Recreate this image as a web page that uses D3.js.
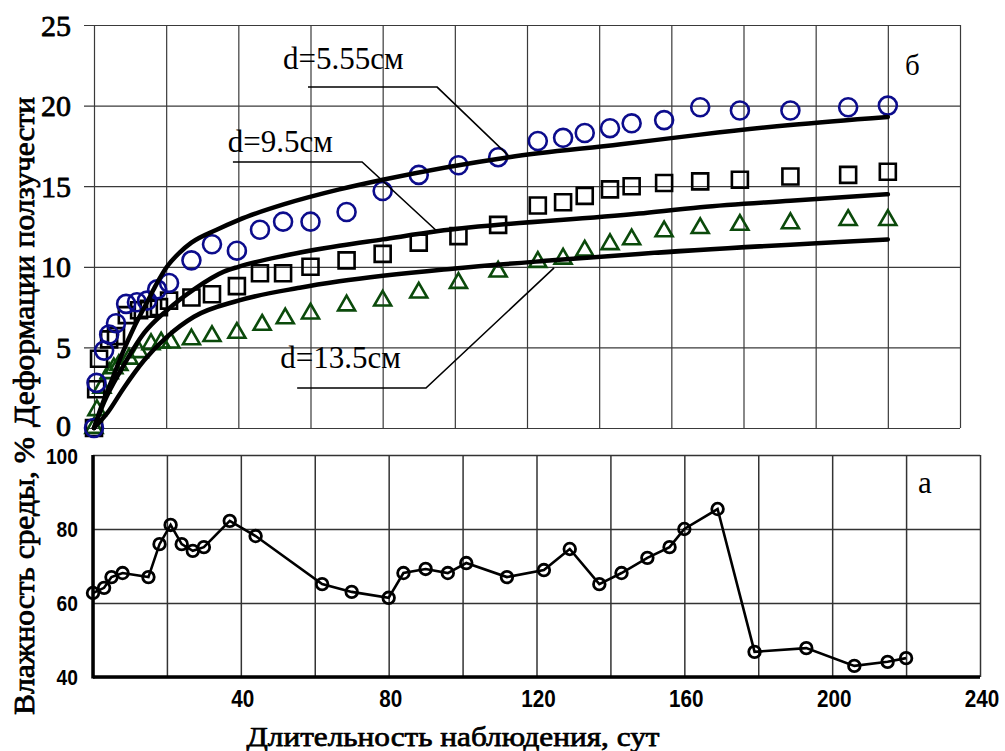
<!DOCTYPE html>
<html>
<head>
<meta charset="utf-8">
<script src="https://cdnjs.cloudflare.com/ajax/libs/d3/7.8.5/d3.min.js"></script>
<style>
body { margin: 0; background: #fff; }
svg { display: block; }
</style>
</head>
<body>
<div id="chart"></div>
<script>
//Creep data (top panel, б)
var circleDays = [0, 0.7, 2.8, 4.2, 6.1, 8.9, 11.9, 14.7, 17.5, 20.8, 27, 32.7, 39.6, 46, 52.4, 60, 70, 80, 90, 101, 112, 123, 130, 136, 143, 149, 158, 168, 179, 193, 209, 220];
var circleVals = [0, 2.8, 4.8, 5.8, 6.5, 7.7, 7.8, 7.9, 8.6, 9.0, 10.4, 11.4, 11.0, 12.3, 12.8, 12.8, 13.4, 14.7, 15.7, 16.3, 16.8, 17.8, 18.0, 18.3, 18.6, 18.9, 19.1, 19.9, 19.7, 19.7, 19.9, 20.0];

var squareDays = [0, 0.6, 1.4, 4.2, 6.1, 9.1, 12.5, 15.2, 18, 20.8, 27, 32.7, 39.6, 46, 52.4, 60, 70, 80, 90, 101, 112, 123, 130, 136, 143, 149, 158, 168, 179, 193, 209, 220];
var squareVals = [0, 2.4, 4.3, 5.5, 5.7, 7.0, 7.3, 7.4, 7.5, 7.9, 8.1, 8.3, 8.8, 9.6, 9.6, 10.0, 10.4, 10.8, 11.5, 11.9, 12.6, 13.8, 14.0, 14.4, 14.8, 15.0, 15.2, 15.3, 15.4, 15.6, 15.7, 15.9];

var triDays = [0, 0.8, 2.2, 4.2, 5.5, 6.9, 9.7, 12.5, 15.8, 18.6, 21.3, 27, 32.7, 39.6, 46.6, 53, 60, 70, 80, 90, 101, 112, 123, 130, 136, 143, 149, 158, 168, 179, 193, 209, 220];
var triVals = [0, 1.1, 2.5, 3.4, 3.7, 3.9, 4.3, 4.7, 5.2, 5.3, 5.3, 5.5, 5.7, 5.9, 6.4, 6.8, 7.1, 7.6, 7.9, 8.4, 9.0, 9.7, 10.3, 10.5, 11.0, 11.4, 11.7, 12.2, 12.4, 12.6, 12.7, 12.9, 12.9];

//Fitted curves
var fitDays55 = [0, 2, 5, 8, 11, 14.7, 17, 20.2, 23.8, 27, 34, 40, 53, 68, 80, 115, 146, 168, 193, 220];
var fitVals55 = [0, 1.3, 3.0, 4.7, 6.2, 7.8, 8.8, 10.0, 10.9, 11.5, 12.3, 12.9, 13.9, 14.8, 15.4, 16.8, 17.6, 18.2, 18.8, 19.3];
var fitDays95 = [0, 2.8, 7.5, 13.9, 20.2, 27.7, 36, 40, 53, 68, 80, 95, 151, 168, 193, 220];
var fitVals95 = [0, 1.6, 3.6, 5.9, 7.3, 8.6, 9.7, 10.0, 10.7, 11.3, 11.7, 12.2, 13.3, 13.7, 14.1, 14.5];
var fitDays135 = [0, 3.6, 8.3, 13.9, 20.2, 27.7, 40, 57, 68, 100, 127, 151, 220];
var fitVals135 = [0, 0.9, 2.5, 4.2, 5.65, 6.9, 7.9, 8.7, 9.1, 9.9, 10.4, 10.8, 11.7];

//Humidity (bottom panel, а)
var humDays = [0, 3, 5, 8, 15, 18, 21, 24, 27, 30, 37, 44, 62, 70, 80, 84, 90, 96, 101, 112, 122, 129, 137, 143, 150, 156, 160, 169, 179, 193, 206, 215, 220];
var humVals = [62.7, 64.1, 67.0, 68.1, 67.0, 75.9, 81.1, 75.9, 74.1, 75.1, 82.2, 78.1, 65.1, 63.0, 61.4, 68.1, 69.2, 68.1, 70.8, 67.0, 68.9, 74.6, 65.1, 68.1, 72.2, 75.1, 80.0, 85.4, 46.8, 47.8, 43.0, 44.1, 45.1];

//Ticks
var dayGrid = [0, 20, 40, 60, 80, 100, 120, 140, 160, 180, 200, 220, 240];
var dayLabels = [40, 80, 120, 160, 200, 240];
var creepTicks = [0, 5, 10, 15, 20, 25];
var humTicks = [40, 60, 80, 100];

//Annotations (label, text position, leader line) in data units
var annoText = ["d=5.55см", "d=9.5см", "d=13.5см"];
var annoPos = [[52.4, 22.27], [37.1, 17.12], [51.6, 3.72]];
var annoLeaders = [
	[[59.3, 21.15], [95.1, 21.15], [115.3, 16.8]],
	[[38.5, 16.5], [74.3, 16.5], [95.3, 12.16]],
	[[56.3, 2.48], [92, 2.48], [127.5, 9.93]]
];

var serif = '"Liberation Serif", "Times New Roman", Times, serif';
var narrow = '"Liberation Sans Narrow", "Arial Narrow", "Liberation Sans", Arial, sans-serif';

//bold Times look: regular serif face thickened a little with a stroke
var boldSerif = function(sel, w) {
	sel.style('font-family', serif)
		.style('font-weight', 'normal')
		.attr('fill', '#000')
		.attr('stroke', '#000')
		.attr('stroke-width', w)
		.attr('stroke-linejoin', 'round');
};

var svg = d3.select('#chart')
	.append('svg')
	.attr('width', 1005)
	.attr('height', 751);

//---------------- top panel ----------------
var topW = 876, topH = 403;
var xTop = d3.scaleLinear().domain([0, 240]).range([10, topW]);
var yTop = d3.scaleLinear().domain([0, 25]).range([topH, 0]);

var gTop = svg.append('g')
	.attr('transform', 'translate(84,25)');

//Horizontal grid
gTop.append('g')
	.call(d3.axisLeft(yTop).tickValues(creepTicks).tickSize(-topW).tickFormat(''))
	.call(function(g) { g.select('.domain').remove(); })
	.selectAll('line')
	.attr('stroke', '#3a3a3a')
	.attr('stroke-width', 1.2);

//Vertical grid
gTop.append('g')
	.attr('transform', 'translate(0,' + topH + ')')
	.call(d3.axisBottom(xTop).tickValues(dayGrid).tickSize(-topH).tickFormat(''))
	.call(function(g) { g.select('.domain').remove(); })
	.selectAll('line')
	.attr('stroke', '#3a3a3a')
	.attr('stroke-width', 1.2);

//Y tick labels
gTop.selectAll('.ylab')
	.data(creepTicks)
	.enter()
	.append('text')
	.attr('x', -13)
	.attr('y', function(d) { return yTop(d); })
	.attr('dy', function(d) { return d === 0 ? '0.28em' : '0.35em'; })
	.attr('text-anchor', 'end')
	.style('font-size', '30px')
	.call(boldSerif, 0.8)
	.text(function(d) { return d; });

//Markers
var circleSym = d3.symbol().type(d3.symbolCircle).size(254);
var squareSym = d3.symbol().type(d3.symbolSquare).size(256);
var triSym = d3.symbol().type(d3.symbolTriangle).size(125);

gTop.selectAll('.tri')
	.data(d3.zip(triDays, triVals))
	.enter()
	.append('path')
	.attr('d', triSym)
	.attr('transform', function(d) { return 'translate(' + xTop(d[0]) + ',' + yTop(d[1]) + ')'; })
	.attr('fill', 'none')
	.attr('stroke', '#0b4a0b')
	.attr('stroke-width', 2.6);

gTop.selectAll('.sq')
	.data(d3.zip(squareDays, squareVals))
	.enter()
	.append('path')
	.attr('d', squareSym)
	.attr('transform', function(d) { return 'translate(' + xTop(d[0]) + ',' + yTop(d[1]) + ')'; })
	.attr('fill', 'none')
	.attr('stroke', '#000')
	.attr('stroke-width', 2.6);

gTop.selectAll('.circ')
	.data(d3.zip(circleDays, circleVals))
	.enter()
	.append('path')
	.attr('d', circleSym)
	.attr('transform', function(d) { return 'translate(' + xTop(d[0]) + ',' + yTop(d[1]) + ')'; })
	.attr('fill', 'none')
	.attr('stroke', '#0c0c8c')
	.attr('stroke-width', 2.6);

//Fitted curves
var fitLine = d3.line()
	.x(function(d) { return xTop(d[0]); })
	.y(function(d) { return yTop(d[1]); })
	.curve(d3.curveMonotoneX);

[[fitDays55, fitVals55], [fitDays95, fitVals95], [fitDays135, fitVals135]].forEach(function(f) {
	gTop.append('path')
		.datum(d3.zip(f[0], f[1]))
		.attr('d', fitLine)
		.attr('fill', 'none')
		.attr('stroke', '#000')
		.attr('stroke-width', 4.5)
		.attr('stroke-linecap', 'round');
});

//Annotations
var leaderLine = d3.line()
	.x(function(d) { return xTop(d[0]); })
	.y(function(d) { return yTop(d[1]); });

annoLeaders.forEach(function(pts) {
	gTop.append('path')
		.datum(pts)
		.attr('d', leaderLine)
		.attr('fill', 'none')
		.attr('stroke', '#000')
		.attr('stroke-width', 1.6);
});

gTop.selectAll('.anno')
	.data(annoText)
	.enter()
	.append('text')
	.attr('x', function(d, i) { return xTop(annoPos[i][0]); })
	.attr('y', function(d, i) { return yTop(annoPos[i][1]); })
	.style('font-family', serif)
	.style('font-size', '31px')
	.text(function(d) { return d; });

gTop.append('text')
	.attr('x', 821)
	.attr('y', 50)
	.style('font-family', serif)
	.style('font-size', '29px')
	.text('б');

//---------------- bottom panel ----------------
var botW = 887, botH = 222;
var xBot = d3.scaleLinear().domain([0, 240]).range([0, botW]);
var yBot = d3.scaleLinear().domain([40, 100]).range([botH, 0]);

var gBot = svg.append('g')
	.attr('transform', 'translate(93,455)');

gBot.append('g')
	.call(d3.axisLeft(yBot).tickValues(humTicks).tickSize(-botW).tickFormat(''))
	.call(function(g) { g.select('.domain').remove(); })
	.selectAll('line')
	.attr('stroke', '#333')
	.attr('stroke-width', 1.5);

gBot.append('g')
	.attr('transform', 'translate(0,' + botH + ')')
	.call(d3.axisBottom(xBot).tickValues(dayGrid).tickSize(-botH).tickFormat(''))
	.call(function(g) { g.select('.domain').remove(); })
	.selectAll('line')
	.attr('stroke', '#333')
	.attr('stroke-width', 1.5);

//Thick left and bottom axes
gBot.append('line')
	.attr('x1', 0).attr('x2', 0)
	.attr('y1', yBot(100)).attr('y2', yBot(40) + 1.5)
	.attr('stroke', '#000').attr('stroke-width', 3.5);
gBot.append('line')
	.attr('x1', 0).attr('x2', xBot(240))
	.attr('y1', yBot(40)).attr('y2', yBot(40))
	.attr('stroke', '#000').attr('stroke-width', 3.5);

//narrow bold digits, squeezed to the width seen in the picture
gBot.selectAll('.hy')
	.data(humTicks)
	.enter()
	.append('text')
	.attr('x', -15)
	.attr('y', function(d) { return yBot(d); })
	.attr('dy', function(d) { return d === 100 ? '0.42em' : '0.36em'; })
	.attr('text-anchor', 'end')
	.attr('textLength', function(d) { return String(d).length * 10.7; })
	.attr('lengthAdjust', 'spacingAndGlyphs')
	.style('font-family', narrow)
	.style('font-weight', 'bold')
	.style('font-size', '22px')
	.text(function(d) { return d; });

gBot.selectAll('.hx')
	.data(dayLabels)
	.enter()
	.append('text')
	.attr('x', function(d) { return xBot(d) + 2; })
	.attr('y', botH + 30)
	.attr('text-anchor', 'middle')
	.attr('textLength', function(d) { return String(d).length * 11.5; })
	.attr('lengthAdjust', 'spacingAndGlyphs')
	.style('font-family', narrow)
	.style('font-weight', 'bold')
	.style('font-size', '23px')
	.text(function(d) { return d; });

var humLine = d3.line()
	.x(function(d) { return xBot(d[0]); })
	.y(function(d) { return yBot(d[1]); });

gBot.append('path')
	.datum(d3.zip(humDays, humVals))
	.attr('d', humLine)
	.attr('fill', 'none')
	.attr('stroke', '#000')
	.attr('stroke-width', 2.6);

gBot.selectAll('.hm')
	.data(d3.zip(humDays, humVals))
	.enter()
	.append('circle')
	.attr('cx', function(d) { return xBot(d[0]); })
	.attr('cy', function(d) { return yBot(d[1]); })
	.attr('r', 5.8)
	.attr('fill', 'none')
	.attr('stroke', '#000')
	.attr('stroke-width', 2.8);

gBot.append('text')
	.attr('x', 825)
	.attr('y', 38)
	.style('font-family', serif)
	.style('font-size', '31px')
	.text('а');

//---------------- axis titles ----------------
svg.append('text')
	.attr('transform', 'translate(34,262) rotate(-90)')
	.attr('text-anchor', 'middle')
	.attr('textLength', 330)
	.attr('lengthAdjust', 'spacingAndGlyphs')
	.style('font-size', '30px')
	.call(boldSerif, 0.8)
	.text('Деформации ползучести');

svg.append('text')
	.attr('transform', 'translate(34,576) rotate(-90)')
	.attr('text-anchor', 'middle')
	.attr('textLength', 278)
	.attr('lengthAdjust', 'spacingAndGlyphs')
	.style('font-size', '30px')
	.call(boldSerif, 0.8)
	.text('Влажность среды, %');

svg.append('text')
	.attr('x', 453)
	.attr('y', 746)
	.attr('text-anchor', 'middle')
	.attr('textLength', 413)
	.attr('lengthAdjust', 'spacingAndGlyphs')
	.style('font-size', '28px')
	.call(boldSerif, 0.75)
	.text('Длительность наблюдения, сут');
</script>
</body>
</html>
